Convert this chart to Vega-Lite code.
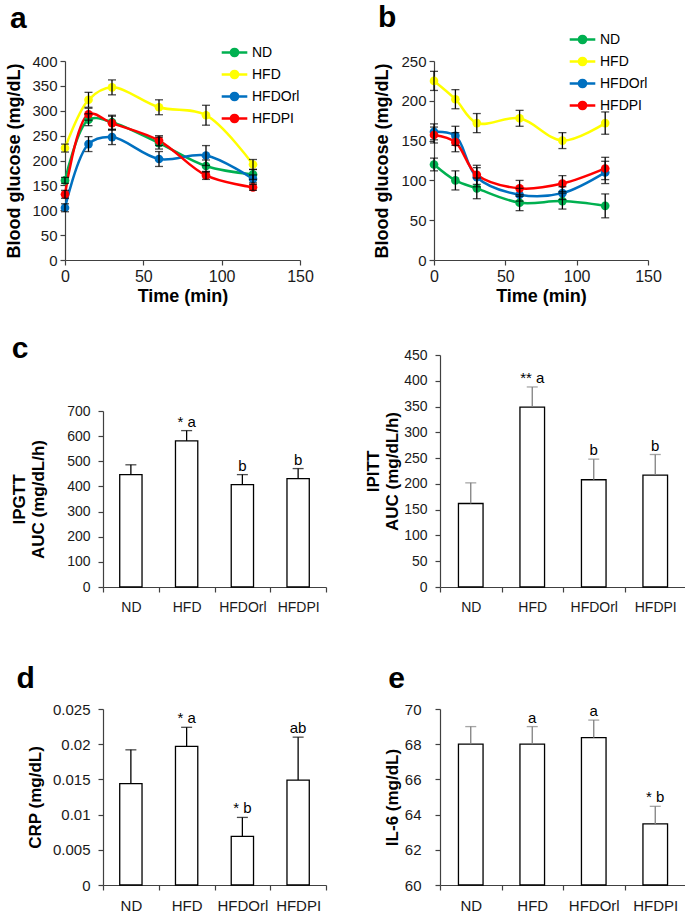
{
  "$schema": "https://vega.github.io/schema/vega-lite/v6.json",
  "padding": {"left": 5, "top": 3, "right": 0, "bottom": 0},
  "config": {
    "font": "Liberation Sans",
    "view": {"stroke": null},
    "axis": {"grid": false, "domainColor": "#404040", "tickColor": "#404040", "labelColor": "#1a1a1a", "titleColor": "#000", "labelFontSize": 14, "titleFontSize": 17, "titleFontWeight": "bold", "tickSize": 5, "domainWidth": 1.2, "tickWidth": 1.2, "labelOverlap": false, "labelFlush": false, "labelPadding": 3},
    "title": {"fontSize": 30, "fontWeight": "bold", "anchor": "start", "frame": "bounds", "color": "#000"},
    "legend": {"title": null, "orient": "none", "symbolType": "M-1.6,0H1.6M0.45,0A0.45,0.45,0,1,1,-0.45,0A0.45,0.45,0,1,1,0.45,0M0.28,0A0.28,0.28,0,1,1,-0.28,0A0.28,0.28,0,1,1,0.28,0M0.1,0A0.1,0.1,0,1,1,-0.1,0A0.1,0.1,0,1,1,0.1,0", "symbolSize": 256, "symbolStrokeWidth": 2.5, "labelFontSize": 14, "labelOffset": 8, "rowPadding": 3, "labelColor": "#000", "padding": 0}
  },
  "columns": 2,
  "spacing": {"row": 29, "column": 26},
  "resolve": {"scale": {"color": "independent"}, "legend": {"color": "independent"}},
  "concat": [
    {
      "title": {"text": "a", "offset": 9, "dx": 4},
      "width": 197, "height": 199,
      "data": {"values": [
        {"t": 0, "g": "ND", "v": 160, "lo": 154, "hi": 166},
        {"t": 15, "g": "ND", "v": 282, "lo": 270, "hi": 294},
        {"t": 30, "g": "ND", "v": 277, "lo": 263, "hi": 291},
        {"t": 60, "g": "ND", "v": 235, "lo": 223, "hi": 247},
        {"t": 90, "g": "ND", "v": 189, "lo": 177, "hi": 201},
        {"t": 120, "g": "ND", "v": 172, "lo": 162, "hi": 182},
        {"t": 0, "g": "HFD", "v": 225, "lo": 217, "hi": 233},
        {"t": 15, "g": "HFD", "v": 322, "lo": 307, "hi": 337},
        {"t": 30, "g": "HFD", "v": 347, "lo": 332, "hi": 362},
        {"t": 60, "g": "HFD", "v": 307, "lo": 292, "hi": 322},
        {"t": 90, "g": "HFD", "v": 291, "lo": 271, "hi": 311},
        {"t": 120, "g": "HFD", "v": 192, "lo": 182, "hi": 202},
        {"t": 0, "g": "HFDOrl", "v": 105, "lo": 97, "hi": 113},
        {"t": 15, "g": "HFDOrl", "v": 233, "lo": 218, "hi": 248},
        {"t": 30, "g": "HFDOrl", "v": 247, "lo": 232, "hi": 262},
        {"t": 60, "g": "HFDOrl", "v": 203, "lo": 188, "hi": 218},
        {"t": 90, "g": "HFDOrl", "v": 210, "lo": 190, "hi": 230},
        {"t": 120, "g": "HFDOrl", "v": 163, "lo": 155, "hi": 171},
        {"t": 0, "g": "HFDPI", "v": 132, "lo": 124, "hi": 140},
        {"t": 15, "g": "HFDPI", "v": 293, "lo": 281, "hi": 305},
        {"t": 30, "g": "HFDPI", "v": 275, "lo": 261, "hi": 289},
        {"t": 60, "g": "HFDPI", "v": 240, "lo": 230, "hi": 250},
        {"t": 90, "g": "HFDPI", "v": 170, "lo": 162, "hi": 178},
        {"t": 120, "g": "HFDPI", "v": 146, "lo": 140, "hi": 152}
      ]},
      "encoding": {
        "x": {"field": "t", "type": "quantitative", "title": "Time (min)", "scale": {"domain": [0, 150], "range": [-38, 197]}, "axis": {"values": [0, 50, 100, 150], "labelFontSize": 16, "titleFontSize": 18, "titlePadding": 3}}
      },
      "layer": [
        {"mark": {"type": "line", "interpolate": "catmull-rom", "strokeWidth": 2.5},
         "encoding": {
           "y": {"field": "v", "type": "quantitative", "title": "Blood glucose (mg/dL)", "scale": {"domain": [0, 400]}, "axis": {"values": [0, 50, 100, 150, 200, 250, 300, 350, 400], "labelFontSize": 15, "titleFontSize": 18, "titlePadding": 8, "offset": 38}},
           "color": {"field": "g", "type": "nominal", "scale": {"domain": ["ND", "HFD", "HFDOrl", "HFDPI"], "range": ["#00B050", "#FFFF00", "#0070C0", "#FF0000"]}, "legend": {"legendX": 122, "legendY": -18}}
         }},
        {"mark": {"type": "point", "filled": true, "size": 75, "opacity": 1},
         "encoding": {
           "y": {"field": "v", "type": "quantitative", "title": "Blood glucose (mg/dL)", "scale": {"domain": [0, 400]}, "axis": {"values": [0, 50, 100, 150, 200, 250, 300, 350, 400], "labelFontSize": 15, "titleFontSize": 18, "titlePadding": 8, "offset": 38}},
           "color": {"field": "g", "type": "nominal", "legend": null}
         }},
        {"mark": {"type": "rule", "strokeWidth": 1.3, "color": "#000"},
         "encoding": {
           "y": {"field": "lo", "type": "quantitative", "title": "Blood glucose (mg/dL)", "scale": {"domain": [0, 400]}, "axis": {"values": [0, 50, 100, 150, 200, 250, 300, 350, 400], "labelFontSize": 15, "titleFontSize": 18, "titlePadding": 8, "offset": 38}},
           "y2": {"field": "hi"}
         }},
        {"mark": {"type": "tick", "orient": "horizontal", "size": 8, "thickness": 1.3, "color": "#000"},
         "encoding": {
           "y": {"field": "lo", "type": "quantitative", "title": "Blood glucose (mg/dL)", "scale": {"domain": [0, 400]}, "axis": {"values": [0, 50, 100, 150, 200, 250, 300, 350, 400], "labelFontSize": 15, "titleFontSize": 18, "titlePadding": 8, "offset": 38}}
         }},
        {"mark": {"type": "tick", "orient": "horizontal", "size": 8, "thickness": 1.3, "color": "#000"},
         "encoding": {
           "y": {"field": "hi", "type": "quantitative", "title": "Blood glucose (mg/dL)", "scale": {"domain": [0, 400]}, "axis": {"values": [0, 50, 100, 150, 200, 250, 300, 350, 400], "labelFontSize": 15, "titleFontSize": 18, "titlePadding": 8, "offset": 38}}
         }}
      ]
    },
    {
      "title": {"text": "b", "offset": -3, "dx": 4},
      "width": 208, "height": 199,
      "data": {"values": [
        {"t": 0, "g": "ND", "v": 120, "lo": 112, "hi": 128},
        {"t": 15, "g": "ND", "v": 100, "lo": 88, "hi": 112},
        {"t": 30, "g": "ND", "v": 90, "lo": 77, "hi": 103},
        {"t": 60, "g": "ND", "v": 72, "lo": 62, "hi": 82},
        {"t": 90, "g": "ND", "v": 74, "lo": 64, "hi": 84},
        {"t": 120, "g": "ND", "v": 68, "lo": 53, "hi": 83},
        {"t": 0, "g": "HFD", "v": 225, "lo": 213, "hi": 237},
        {"t": 15, "g": "HFD", "v": 202, "lo": 190, "hi": 214},
        {"t": 30, "g": "HFD", "v": 172, "lo": 160, "hi": 184},
        {"t": 60, "g": "HFD", "v": 178, "lo": 168, "hi": 188},
        {"t": 90, "g": "HFD", "v": 150, "lo": 140, "hi": 160},
        {"t": 120, "g": "HFD", "v": 172, "lo": 158, "hi": 186},
        {"t": 0, "g": "HFDOrl", "v": 161, "lo": 151, "hi": 171},
        {"t": 15, "g": "HFDOrl", "v": 156, "lo": 144, "hi": 168},
        {"t": 30, "g": "HFDOrl", "v": 104, "lo": 92, "hi": 116},
        {"t": 60, "g": "HFDOrl", "v": 82, "lo": 74, "hi": 90},
        {"t": 90, "g": "HFDOrl", "v": 84, "lo": 76, "hi": 92},
        {"t": 120, "g": "HFDOrl", "v": 110, "lo": 96, "hi": 124},
        {"t": 0, "g": "HFDPI", "v": 157, "lo": 147, "hi": 167},
        {"t": 15, "g": "HFDPI", "v": 148, "lo": 136, "hi": 160},
        {"t": 30, "g": "HFDPI", "v": 107, "lo": 95, "hi": 119},
        {"t": 60, "g": "HFDPI", "v": 90, "lo": 80, "hi": 100},
        {"t": 90, "g": "HFDPI", "v": 96, "lo": 86, "hi": 106},
        {"t": 120, "g": "HFDPI", "v": 115, "lo": 101, "hi": 129}
      ]},
      "encoding": {
        "x": {"field": "t", "type": "quantitative", "title": "Time (min)", "scale": {"domain": [0, 150], "range": [-6, 208]}, "axis": {"values": [0, 50, 100, 150], "labelFontSize": 16, "titleFontSize": 18, "titlePadding": 3}}
      },
      "layer": [
        {"mark": {"type": "line", "interpolate": "catmull-rom", "strokeWidth": 2.5},
         "encoding": {
           "y": {"field": "v", "type": "quantitative", "title": "Blood glucose (mg/dL)", "scale": {"domain": [0, 250]}, "axis": {"values": [0, 50, 100, 150, 200, 250], "labelFontSize": 15, "titleFontSize": 18, "titlePadding": 9, "offset": 6}},
           "color": {"field": "g", "type": "nominal", "scale": {"domain": ["ND", "HFD", "HFDOrl", "HFDPI"], "range": ["#00B050", "#FFFF00", "#0070C0", "#FF0000"]}, "legend": {"legendX": 133, "legendY": -31}}
         }},
        {"mark": {"type": "point", "filled": true, "size": 75, "opacity": 1},
         "encoding": {
           "y": {"field": "v", "type": "quantitative", "title": "Blood glucose (mg/dL)", "scale": {"domain": [0, 250]}, "axis": {"values": [0, 50, 100, 150, 200, 250], "labelFontSize": 15, "titleFontSize": 18, "titlePadding": 9, "offset": 6}},
           "color": {"field": "g", "type": "nominal", "legend": null}
         }},
        {"mark": {"type": "rule", "strokeWidth": 1.3, "color": "#000"},
         "encoding": {
           "y": {"field": "lo", "type": "quantitative", "title": "Blood glucose (mg/dL)", "scale": {"domain": [0, 250]}, "axis": {"values": [0, 50, 100, 150, 200, 250], "labelFontSize": 15, "titleFontSize": 18, "titlePadding": 9, "offset": 6}},
           "y2": {"field": "hi"}
         }},
        {"mark": {"type": "tick", "orient": "horizontal", "size": 8, "thickness": 1.3, "color": "#000"},
         "encoding": {
           "y": {"field": "lo", "type": "quantitative", "title": "Blood glucose (mg/dL)", "scale": {"domain": [0, 250]}, "axis": {"values": [0, 50, 100, 150, 200, 250], "labelFontSize": 15, "titleFontSize": 18, "titlePadding": 9, "offset": 6}}
         }},
        {"mark": {"type": "tick", "orient": "horizontal", "size": 8, "thickness": 1.3, "color": "#000"},
         "encoding": {
           "y": {"field": "hi", "type": "quantitative", "title": "Blood glucose (mg/dL)", "scale": {"domain": [0, 250]}, "axis": {"values": [0, 50, 100, 150, 200, 250], "labelFontSize": 15, "titleFontSize": 18, "titlePadding": 9, "offset": 6}}
         }}
      ]
    },
    {
      "title": {"text": "c", "offset": -9, "dx": 1},
      "width": 223, "height": 280,
      "data": {"values": [
        {"g": "ND", "v": 447, "hi": 486, "sig": ""},
        {"g": "HFD", "v": 581, "hi": 622, "sig": "* a"},
        {"g": "HFDOrl", "v": 407, "hi": 447, "sig": "b"},
        {"g": "HFDPI", "v": 431, "hi": 471, "sig": "b"}
      ]},
      "encoding": {"x": {"field": "g", "type": "nominal", "sort": null, "title": null, "scale": {"paddingInner": 0, "paddingOuter": 0}, "axis": {"labelAngle": 0, "tickBand": "extent", "labelFontSize": 14, "labelPadding": 8, "offset": -48}}},
      "layer": [
        {"mark": {"type": "bar", "fill": "white", "stroke": "#000", "strokeWidth": 1.3, "width": {"band": 0.4}},
         "encoding": {"y": {"field": "v", "type": "quantitative", "title": ["IPGTT", "AUC (mg/dL/h)"], "scale": {"domain": [0, 700], "range": [232, 56]}, "axis": {"values": [0, 100, 200, 300, 400, 500, 600, 700], "labelPadding": 8, "titlePadding": 19}}}},
        {"mark": {"type": "rule", "color": "#000", "strokeWidth": 1.3},
         "encoding": {"y": {"field": "v", "type": "quantitative", "title": ["IPGTT", "AUC (mg/dL/h)"], "scale": {"domain": [0, 700], "range": [232, 56]}, "axis": {"values": [0, 100, 200, 300, 400, 500, 600, 700], "labelPadding": 8, "titlePadding": 19}}, "y2": {"field": "hi"}}},
        {"mark": {"type": "tick", "orient": "horizontal", "color": "#000", "thickness": 1.3, "size": 11},
         "encoding": {"y": {"field": "hi", "type": "quantitative", "title": ["IPGTT", "AUC (mg/dL/h)"], "scale": {"domain": [0, 700], "range": [232, 56]}, "axis": {"values": [0, 100, 200, 300, 400, 500, 600, 700], "labelPadding": 8, "titlePadding": 19}}}},
        {"mark": {"type": "text", "fontSize": 15, "baseline": "alphabetic", "dy": -4, "color": "#000"},
         "encoding": {"y": {"field": "hi", "type": "quantitative", "title": ["IPGTT", "AUC (mg/dL/h)"], "scale": {"domain": [0, 700], "range": [232, 56]}, "axis": {"values": [0, 100, 200, 300, 400, 500, 600, 700], "labelPadding": 8, "titlePadding": 19}}, "text": {"field": "sig"}}}
      ]
    },
    {
      "width": 246, "height": 232,
      "data": {"values": [
        {"g": "ND", "v": 162, "hi": 202, "sig": ""},
        {"g": "HFD", "v": 349, "hi": 388, "sig": "** a"},
        {"g": "HFDOrl", "v": 208, "hi": 248, "sig": "b"},
        {"g": "HFDPI", "v": 217, "hi": 257, "sig": "b"}
      ]},
      "encoding": {"x": {"field": "g", "type": "nominal", "sort": null, "title": null, "scale": {"paddingInner": 0, "paddingOuter": 0}, "axis": {"labelAngle": 0, "tickBand": "extent", "labelFontSize": 14, "labelPadding": 8}}},
      "layer": [
        {"mark": {"type": "bar", "fill": "white", "stroke": "#000", "strokeWidth": 1.3, "width": {"band": 0.4}},
         "encoding": {"y": {"field": "v", "type": "quantitative", "title": ["IPITT", "AUC (mg/dL/h)"], "scale": {"domain": [0, 450]}, "axis": {"values": [0, 50, 100, 150, 200, 250, 300, 350, 400, 450], "labelPadding": 8, "titlePadding": 2}}}},
        {"mark": {"type": "rule", "color": "#808080", "strokeWidth": 1.3},
         "encoding": {"y": {"field": "v", "type": "quantitative", "title": ["IPITT", "AUC (mg/dL/h)"], "scale": {"domain": [0, 450]}, "axis": {"values": [0, 50, 100, 150, 200, 250, 300, 350, 400, 450], "labelPadding": 8, "titlePadding": 2}}, "y2": {"field": "hi"}}},
        {"mark": {"type": "tick", "orient": "horizontal", "color": "#808080", "thickness": 1.3, "size": 11},
         "encoding": {"y": {"field": "hi", "type": "quantitative", "title": ["IPITT", "AUC (mg/dL/h)"], "scale": {"domain": [0, 450]}, "axis": {"values": [0, 50, 100, 150, 200, 250, 300, 350, 400, 450], "labelPadding": 8, "titlePadding": 2}}}},
        {"mark": {"type": "text", "fontSize": 15, "baseline": "alphabetic", "dy": -4, "color": "#000"},
         "encoding": {"y": {"field": "hi", "type": "quantitative", "title": ["IPITT", "AUC (mg/dL/h)"], "scale": {"domain": [0, 450]}, "axis": {"values": [0, 50, 100, 150, 200, 250, 300, 350, 400, 450], "labelPadding": 8, "titlePadding": 2}}, "text": {"field": "sig"}}}
      ]
    },
    {
      "title": {"text": "d", "offset": 8, "dx": -10},
      "width": 223, "height": 176,
      "data": {"values": [
        {"g": "ND", "v": 0.0144, "hi": 0.0192, "sig": ""},
        {"g": "HFD", "v": 0.0197, "hi": 0.0224, "sig": "* a"},
        {"g": "HFDOrl", "v": 0.0069, "hi": 0.0096, "sig": "* b"},
        {"g": "HFDPI", "v": 0.0149, "hi": 0.0210, "sig": "ab"}
      ]},
      "encoding": {"x": {"field": "g", "type": "nominal", "sort": null, "title": null, "scale": {"paddingInner": 0, "paddingOuter": 0}, "axis": {"labelAngle": 0, "tickBand": "extent", "labelFontSize": 15, "labelPadding": 8}}},
      "layer": [
        {"mark": {"type": "bar", "fill": "white", "stroke": "#000", "strokeWidth": 1.3, "width": {"band": 0.4}},
         "encoding": {"y": {"field": "v", "type": "quantitative", "title": "CRP (mg/dL)", "scale": {"domain": [0, 0.025]}, "axis": {"values": [0, 0.005, 0.01, 0.015, 0.02, 0.025], "format": "~g", "labelFontSize": 15, "labelPadding": 8, "titlePadding": 8}}}},
        {"mark": {"type": "rule", "color": "#000", "strokeWidth": 1.3},
         "encoding": {"y": {"field": "v", "type": "quantitative", "title": "CRP (mg/dL)", "scale": {"domain": [0, 0.025]}, "axis": {"values": [0, 0.005, 0.01, 0.015, 0.02, 0.025], "format": "~g", "labelFontSize": 15, "labelPadding": 8, "titlePadding": 8}}, "y2": {"field": "hi"}}},
        {"mark": {"type": "tick", "orient": "horizontal", "color": "#000", "thickness": 1.3, "size": 11},
         "encoding": {"y": {"field": "hi", "type": "quantitative", "title": "CRP (mg/dL)", "scale": {"domain": [0, 0.025]}, "axis": {"values": [0, 0.005, 0.01, 0.015, 0.02, 0.025], "format": "~g", "labelFontSize": 15, "labelPadding": 8, "titlePadding": 8}}}},
        {"mark": {"type": "text", "fontSize": 15, "baseline": "alphabetic", "dy": -4, "color": "#000"},
         "encoding": {"y": {"field": "hi", "type": "quantitative", "title": "CRP (mg/dL)", "scale": {"domain": [0, 0.025]}, "axis": {"values": [0, 0.005, 0.01, 0.015, 0.02, 0.025], "format": "~g", "labelFontSize": 15, "labelPadding": 8, "titlePadding": 8}}, "text": {"field": "sig"}}}
      ]
    },
    {
      "title": {"text": "e", "offset": 8, "dx": 5},
      "width": 246, "height": 176,
      "data": {"values": [
        {"g": "ND", "v": 68.0, "hi": 69.0, "sig": ""},
        {"g": "HFD", "v": 68.0, "hi": 69.0, "sig": "a"},
        {"g": "HFDOrl", "v": 68.37, "hi": 69.37, "sig": "a"},
        {"g": "HFDPI", "v": 63.47, "hi": 64.47, "sig": "* b"}
      ]},
      "encoding": {"x": {"field": "g", "type": "nominal", "sort": null, "title": null, "scale": {"paddingInner": 0, "paddingOuter": 0}, "axis": {"labelAngle": 0, "tickBand": "extent", "labelFontSize": 15, "labelPadding": 8}}},
      "layer": [
        {"mark": {"type": "bar", "fill": "white", "stroke": "#000", "strokeWidth": 1.3, "width": {"band": 0.4}},
         "encoding": {"y": {"field": "v", "type": "quantitative", "title": "IL-6 (mg/dL)", "scale": {"domain": [60, 70], "zero": false}, "axis": {"values": [60, 62, 64, 66, 68, 70], "labelFontSize": 15, "labelPadding": 14, "titlePadding": 3}}, "y2": {"datum": 60}}},
        {"mark": {"type": "rule", "color": "#808080", "strokeWidth": 1.3},
         "encoding": {"y": {"field": "v", "type": "quantitative", "title": "IL-6 (mg/dL)", "scale": {"domain": [60, 70], "zero": false}, "axis": {"values": [60, 62, 64, 66, 68, 70], "labelFontSize": 15, "labelPadding": 14, "titlePadding": 3}}, "y2": {"field": "hi"}}},
        {"mark": {"type": "tick", "orient": "horizontal", "color": "#808080", "thickness": 1.3, "size": 11},
         "encoding": {"y": {"field": "hi", "type": "quantitative", "title": "IL-6 (mg/dL)", "scale": {"domain": [60, 70], "zero": false}, "axis": {"values": [60, 62, 64, 66, 68, 70], "labelFontSize": 15, "labelPadding": 14, "titlePadding": 3}}}},
        {"mark": {"type": "text", "fontSize": 15, "baseline": "alphabetic", "dy": -4, "color": "#000"},
         "encoding": {"y": {"field": "hi", "type": "quantitative", "title": "IL-6 (mg/dL)", "scale": {"domain": [60, 70], "zero": false}, "axis": {"values": [60, 62, 64, 66, 68, 70], "labelFontSize": 15, "labelPadding": 14, "titlePadding": 3}}, "text": {"field": "sig"}}}
      ]
    }
  ]
}
